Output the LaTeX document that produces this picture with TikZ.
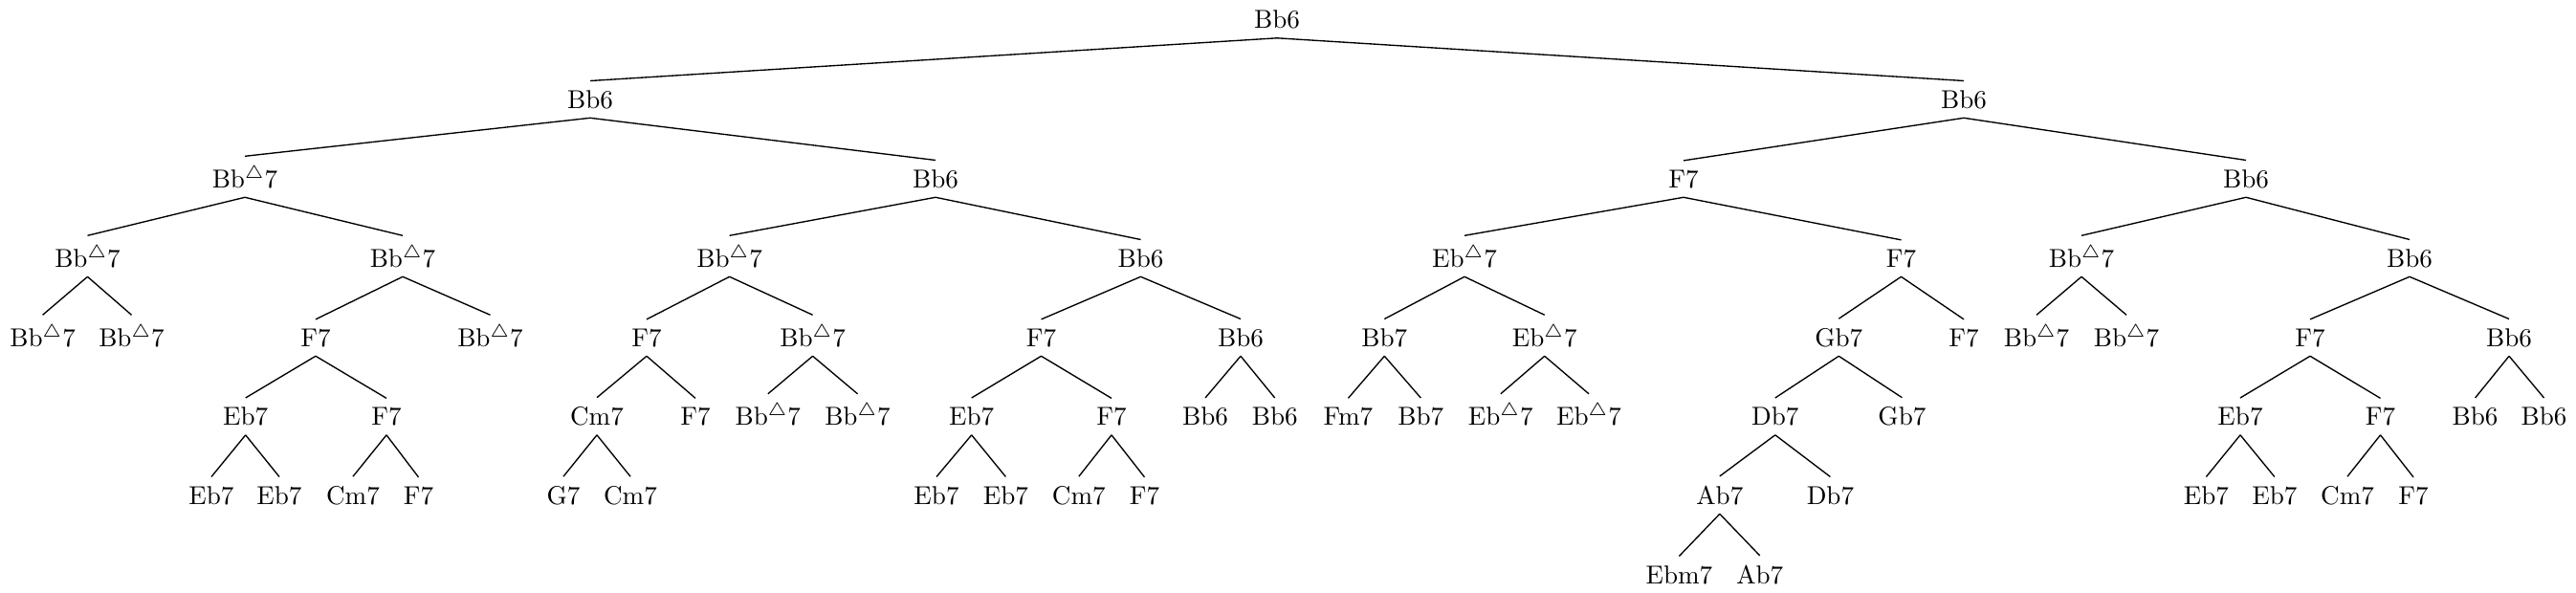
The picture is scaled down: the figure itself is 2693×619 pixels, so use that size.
\documentclass[tikz,border=0pt]{standalone}
\usepackage{amsmath,amssymb}
\usepackage{tikz}

\newcommand{\mj}{$^{\triangle}$}

\begin{document}
\begin{tikzpicture}[x=0.369pt,y=0.369pt,yscale=-1,xscale=1,line width=0.5pt,chord/.style={anchor=base,inner sep=3.33pt}]
%set diagram left start at 0, and has height of 619
\useasboundingbox (0,0) rectangle (2693,619);

% Text Node: level 0
\draw (1335,29.5) node [chord] (a) {Bb6};
% Text Node: level 1
\draw (617,113) node [chord] (b1) {Bb6};
\draw (2053,113) node [chord] (b2) {Bb6};
% Text Node: level 2
\draw (256,196) node [chord] (c1) {Bb\mj7};
\draw (978,196) node [chord] (c2) {Bb6};
\draw (1760,196) node [chord] (c3) {F7};
\draw (2348,196) node [chord] (c4) {Bb6};
% Text Node: level 3
\draw (91.5,279) node [chord] (d1) {Bb\mj7};
\draw (421,279) node [chord] (d2) {Bb\mj7};
\draw (762.6,279) node [chord] (d3) {Bb\mj7};
\draw (1192.5,279) node [chord] (d4) {Bb6};
\draw (1531,279) node [chord] (d5) {Eb\mj7};
\draw (1987.5,279) node [chord] (d6) {F7};
\draw (2176,279) node [chord] (d7) {Bb\mj7};
\draw (2519,279) node [chord] (d8) {Bb6};
% Text Node: level 4
\draw (44.6,362) node [chord] (e1) {Bb\mj7};
\draw (137.5,362) node [chord] (e2) {Bb\mj7};
\draw (330,362) node [chord] (e3) {F7};
\draw (512.5,362) node [chord] (e4) {Bb\mj7};
\draw (676,362) node [chord] (e5) {F7};
\draw (849.6,362) node [chord] (e6) {Bb\mj7};
\draw (1088.5,362) node [chord] (e7) {F7};
\draw (1297,362) node [chord] (e8) {Bb6};
\draw (1447.3,362) node [chord] (e9) {Bb7};
\draw (1614.7,362) node [chord] (e10) {Eb\mj7};
\draw (1922.3,362) node [chord] (e11) {Gb7};
\draw (2053,362) node [chord] (e12) {F7};
\draw (2129,362) node [chord] (e13) {Bb\mj7};
\draw (2223,362) node [chord] (e14) {Bb\mj7};
\draw (2415,362) node [chord] (e15) {F7};
\draw (2623,362) node [chord] (e16) {Bb6};
% Text Node: level 5
\draw (256.7,444.5) node [chord] (f1) {Eb7};
\draw (404,444.5) node [chord] (f2) {F7};
\draw (624,444.5) node [chord] (f3) {Cm7};
\draw (727,444.5) node [chord] (f4) {F7};
\draw (802.8,444.5) node [chord] (f5) {Bb\mj7};
\draw (896.5,444.5) node [chord] (f6) {Bb\mj7};
\draw (1015.7,444.5) node [chord] (f7) {Eb7};
\draw (1162,444.5) node [chord] (f8) {F7};
\draw (1260,444.5) node [chord] (f9) {Bb6};
\draw (1332.7,444.5) node [chord] (f10) {Bb6};
\draw (1409.4,444.5) node [chord] (f11) {Fm7};
\draw (1485.3,444.5) node [chord] (f12) {Bb7};
\draw (1568.8,444.5) node [chord] (f13) {Eb\mj7};
\draw (1661,444.5) node [chord] (f14) {Eb\mj7};
\draw (1855.8,444.5) node [chord] (f15) {Db7};
\draw (1988.4,444.5) node [chord] (f16) {Gb7};
\draw (2342,444.5) node [chord] (f17) {Eb7};
\draw (2488.5,444.5) node [chord] (f18) {F7};
\draw (2587.6,444.5) node [chord] (f19) {Bb6};
\draw (2659.5,444.5) node [chord] (f20) {Bb6};
% Text Node: level 6
\draw (221,527) node [chord] (g1) {Eb7};
\draw (292,527) node [chord] (g2) {Eb7};
\draw (369,527) node [chord] (g3) {Cm7};
\draw (437.5,527) node [chord] (g4) {F7};
\draw (589,527) node [chord] (g5) {G7};
\draw (659,527) node [chord] (g6) {Cm7};
\draw (979,527) node [chord] (g7) {Eb7};
\draw (1051.4,527) node [chord] (g8) {Eb7};
\draw (1127.8,527) node [chord] (g9) {Cm7};
\draw (1196.5,527) node [chord] (g10) {F7};
\draw (1797.8,527) node [chord] (g11) {Ab7};
\draw (1913.4,527) node [chord] (g12) {Db7};
\draw (2306.4,527) node [chord] (g13) {Eb7};
\draw (2377.8,527) node [chord] (g14) {Eb7};
\draw (2454,527) node [chord] (g15) {Cm7};
\draw (2523,527) node [chord] (g16) {F7};
% Text Node: level 7
\draw (1755.4,610) node [chord] (h1) {Ebm7};
\draw (1839.7,610) node [chord] (h2) {Ab7};

%Straight Lines
\draw (a.south) -- (b1.north) (a.south) -- (b2.north) ;
\draw (b1.south) -- (c1.north) (b1.south) -- (c2.north) ;
\draw (b2.south) -- (c3.north) (b2.south) -- (c4.north) ;
%Straight Lines
\draw (c1.south) -- (d1.north) (c1.south) -- (d2.north) ;
\draw (c2.south) -- (d3.north) (c2.south) -- (d4.north) ;
\draw (c3.south) -- (d5.north) (c3.south) -- (d6.north) ;
\draw (c4.south) -- (d7.north) (c4.south) -- (d8.north) ;
%Straight Lines
\draw (d1.south) -- (e1.north) (d1.south) -- (e2.north) ;
\draw (d2.south) -- (e3.north) (d2.south) -- (e4.north) ;
\draw (d3.south) -- (e5.north) (d3.south) -- (e6.north) ;
\draw (d4.south) -- (e7.north) (d4.south) -- (e8.north) ;
\draw (d5.south) -- (e9.north) (d5.south) -- (e10.north) ;
\draw (d6.south) -- (e11.north) (d6.south) -- (e12.north) ;
\draw (d7.south) -- (e13.north) (d7.south) -- (e14.north) ;
\draw (d8.south) -- (e15.north) (d8.south) -- (e16.north) ;
%Straight Lines
\draw (e3.south) -- (f1.north) (e3.south) -- (f2.north) ;
\draw (e5.south) -- (f3.north) (e5.south) -- (f4.north) ;
\draw (e6.south) -- (f5.north) (e6.south) -- (f6.north) ;
\draw (e7.south) -- (f7.north) (e7.south) -- (f8.north) ;
\draw (e8.south) -- (f9.north) (e8.south) -- (f10.north) ;
\draw (e9.south) -- (f11.north) (e9.south) -- (f12.north) ;
\draw (e10.south) -- (f13.north) (e10.south) -- (f14.north) ;
\draw (e11.south) -- (f15.north) (e11.south) -- (f16.north) ;
\draw (e15.south) -- (f17.north) (e15.south) -- (f18.north) ;
\draw (e16.south) -- (f19.north) (e16.south) -- (f20.north) ;
%Straight Lines
\draw (f1.south) -- (g1.north) (f1.south) -- (g2.north) ;
\draw (f2.south) -- (g3.north) (f2.south) -- (g4.north) ;
\draw (f3.south) -- (g5.north) (f3.south) -- (g6.north) ;
\draw (f7.south) -- (g7.north) (f7.south) -- (g8.north) ;
\draw (f8.south) -- (g9.north) (f8.south) -- (g10.north) ;
\draw (f15.south) -- (g11.north) (f15.south) -- (g12.north) ;
\draw (f17.south) -- (g13.north) (f17.south) -- (g14.north) ;
\draw (f18.south) -- (g15.north) (f18.south) -- (g16.north) ;
%Straight Lines
\draw (g11.south) -- (h1.north) (g11.south) -- (h2.north) ;

\end{tikzpicture}
\end{document}
